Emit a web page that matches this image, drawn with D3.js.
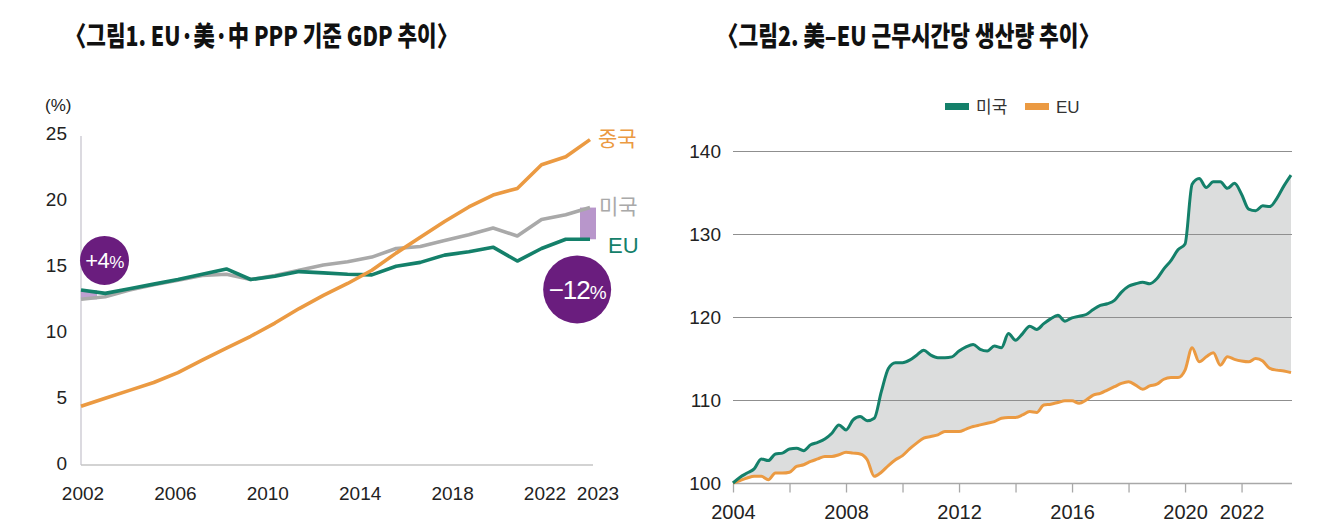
<!DOCTYPE html>
<html><head><meta charset="utf-8">
<script src="https://cdn.jsdelivr.net/npm/d3@7"></script>
<style>body{margin:0;background:#fff} svg{display:block}</style>
</head><body>
<svg id="c" width="1334" height="531"></svg>
<script>
// ---------- Figure 1 data ----------
const title1 = "〈그림1. EU·美·中 PPP 기준 GDP 추이〉";
const gdpYears = [2002,2003,2004,2005,2006,2007,2008,2009,2010,2011,2012,2013,2014,2015,2016,2017,2018,2019,2020,2021,2022,2023];
const gdpChina = [4.3,4.9,5.5,6.1,6.85,7.8,8.7,9.6,10.6,11.7,12.7,13.6,14.6,15.9,17.1,18.3,19.4,20.3,20.8,22.6,23.2,24.5];
const gdpUS    = [12.4,12.6,13.1,13.5,13.85,14.2,14.3,13.9,14.2,14.6,15.0,15.25,15.6,16.25,16.4,16.85,17.3,17.8,17.2,18.45,18.8,19.35];
const gdpEU    = [13.1,12.85,13.2,13.55,13.9,14.3,14.7,13.9,14.15,14.5,14.4,14.3,14.25,14.9,15.2,15.75,16.0,16.35,15.3,16.25,16.95,16.95];
const gdpYTicks = [0,5,10,15,20,25];
const gdpXTickLabels = [2002,2006,2010,2014,2018,2022,2023];
const gdpSeriesLabels = ["중국","미국","EU"];
const gdpGapLabels = ["+4", "−12"];
const gdpUnit = "(%)";

// ---------- Figure 2 data (quarterly, 2004Q1 - 2023Q4) ----------
const title2 = "〈그림2. 美–EU 근무시간당 생산량 추이〉";
const prodYears = [2004,2005,2006,2007,2008,2009,2010,2011,2012,2013,2014,2015,2016,2017,2018,2019,2020,2021,2022,2023];
const prodUS = [
 100.0,100.7,101.2,101.7, 102.9,102.7,103.5,103.6, 104.1,104.2,103.9,104.6, 104.9,105.3,106.0,107.0,
 106.4,107.6,108.0,107.5, 107.8,111.0,113.8,114.5, 114.5,114.8,115.4,116.0, 115.4,115.1,115.1,115.2,
 115.9,116.4,116.7,116.1, 115.9,116.5,116.3,118.0, 117.2,118.0,118.9,118.5, 119.2,119.8,120.2,119.5,
 119.9,120.1,120.3,120.9, 121.4,121.6,122.0,123.0, 123.7,124.0,124.2,124.0, 124.6,125.8,126.8,128.1,
 128.8,136.0,136.7,135.6, 136.3,136.3,135.5,136.1, 134.8,133.0,132.8,133.4, 133.3,134.3,135.8,137.1];
const prodEU = [
 100.0,100.3,100.6,100.8, 100.8,100.4,101.2,101.2, 101.3,102.0,102.2,102.6, 102.9,103.2,103.2,103.4,
 103.7,103.6,103.5,102.8, 100.8,101.3,102.1,102.8, 103.3,104.1,104.8,105.4, 105.6,105.8,106.2,106.2,
 106.2,106.5,106.8,107.0, 107.2,107.4,107.8,107.9, 107.9,108.2,108.6,108.5, 109.4,109.5,109.7,109.9,
 109.9,109.6,110.0,110.6, 110.8,111.2,111.6,112.0, 112.2,111.8,111.3,111.7, 111.9,112.5,112.7,112.7,
 113.6,116.3,114.6,115.2, 115.7,114.2,115.2,114.9, 114.7,114.6,115.0,114.7, 113.8,113.6,113.5,113.3];
const prodYTicks = [100,110,120,130,140];
const prodXTicks = [2004,2006,2008,2010,2012,2014,2016,2018,2020,2022];
const prodXLabels = [2004,2008,2012,2016,2020,2022];
const prodLegend = ["미국","EU"];

// ---------- styles ----------
const GREEN = "#14806a", ORANGE = "#eb9a42", GREY = "#a9a9a9", PURPLE = "#6a1d7e", LPURPLE = "#b896cb";
const NUM_FONT = "'Liberation Sans', Arial, sans-serif";
const KR_FONT = "'Noto Sans CJK KR', 'Noto Sans', sans-serif";

const svg = d3.select("#c");

// Titles
svg.append("text").attr("x", 65).attr("y", 46).attr("textLength", 393).attr("lengthAdjust", "spacingAndGlyphs")
  .attr("font-family", KR_FONT).attr("font-weight", 900).attr("font-size", 27).attr("fill", "#111").text(title1);
svg.append("text").attr("x", 717).attr("y", 46).attr("textLength", 383).attr("lengthAdjust", "spacingAndGlyphs")
  .attr("font-family", KR_FONT).attr("font-weight", 900).attr("font-size", 27).attr("fill", "#111").text(title2);

// ================= Figure 1 =================
{
  const g = svg.append("g");
  const x = d3.scaleLinear().domain([2002, 2023]).range([81, 590]);
  const y = d3.scaleLinear().domain([0, 25]).range([463, 133]);
  const xLab = d3.scaleLinear().domain([2002, 2022]).range([83, 545]);

  // axes lines
  g.append("line").attr("x1", x(2002)).attr("x2", x(2002)).attr("y1", y(25) + 3).attr("y2", y(0) + 2)
    .attr("stroke", "#c4c2cc").attr("stroke-width", 1.2);
  g.append("line").attr("x1", x(2002)).attr("x2", x(2023) + 3).attr("y1", y(0) + 2).attr("y2", y(0) + 2)
    .attr("stroke", "#c4c4c4").attr("stroke-width", 1.5);

  // y tick labels
  g.selectAll(".yl").data(gdpYTicks).enter().append("text")
    .attr("x", 67).attr("y", d => y(d) + 7).attr("text-anchor", "end")
    .attr("font-family", NUM_FONT).attr("font-size", 19).attr("fill", "#222").text(d => d);
  g.append("text").attr("x", 45).attr("y", 111).attr("font-family", NUM_FONT).attr("font-size", 17)
    .attr("fill", "#222").text(gdpUnit);

  // x tick labels
  g.selectAll(".xl").data(gdpXTickLabels).enter().append("text")
    .attr("x", (d, i) => i === gdpXTickLabels.length - 1 ? x(d) + 8 : xLab(d))
    .attr("y", 500).attr("text-anchor", "middle")
    .attr("font-family", NUM_FONT).attr("font-size", 19).attr("fill", "#222").text(d => d);

  // purple gap bars
  g.append("rect").attr("x", x(2002)).attr("width", 16)
    .attr("y", y(gdpEU[0])).attr("height", y(gdpUS[0]) - y(gdpEU[0]))
    .attr("fill", LPURPLE).attr("opacity", 0.9);
  const last = gdpYears.length - 1;
  g.append("rect").attr("x", x(2023) - 10).attr("width", 16)
    .attr("y", y(gdpUS[last])).attr("height", y(gdpEU[last]) - y(gdpUS[last]))
    .attr("fill", LPURPLE);

  const line = d3.line().x((d, i) => x(gdpYears[i])).y(d => y(d));
  [[gdpUS, GREY], [gdpEU, GREEN], [gdpChina, ORANGE]].forEach(([s, c]) => {
    g.append("path").datum(s).attr("d", line).attr("fill", "none").attr("stroke", c)
      .attr("stroke-width", 3.6).attr("stroke-linejoin", "round");
  });

  // series labels
  const labelColors = [ORANGE, GREY, GREEN];
  const labelPos = [[598, 146], [599, 214], [608, 253]];
  gdpSeriesLabels.forEach((t, i) => {
    g.append("text").attr("x", labelPos[i][0]).attr("y", labelPos[i][1])
      .attr("font-family", i === 2 ? NUM_FONT : KR_FONT).attr("font-size", i === 2 ? 22 : 21)
      .attr("fill", labelColors[i]).text(t);
  });

  // circles
  const circ = [{cx: x(2002.97), cy: y(15.35), r: 24.5, fs: 22, pfs: 17, ls: -0.5},
                {cx: x(2022.47), cy: y(13.15), r: 34, fs: 26, pfs: 19, ls: -1}];
  circ.forEach((c, i) => {
    g.append("circle").attr("cx", c.cx).attr("cy", c.cy).attr("r", c.r).attr("fill", PURPLE);
    const t = g.append("text").attr("x", c.cx).attr("y", c.cy + c.fs * 0.36).attr("text-anchor", "middle")
      .attr("font-family", NUM_FONT).attr("font-size", c.fs).attr("fill", "#fff").attr("letter-spacing", c.ls);
    t.append("tspan").text(gdpGapLabels[i]);
    t.append("tspan").attr("font-size", c.pfs).text("%");
  });
}

// ================= Figure 2 =================
{
  const g = svg.append("g");
  const times = prodUS.map((d, i) => prodYears[Math.floor(i / 4)] + (i % 4) / 4);
  const x = d3.scaleLinear().domain([2004, 2023.75]).range([733, 1291]);
  const y = d3.scaleLinear().domain([100, 140]).range([483, 151]);

  // area between
  const area = d3.area().x((d, i) => x(times[i])).y0((d, i) => y(prodEU[i])).y1(d => y(d));
  g.append("path").datum(prodUS).attr("d", area).attr("fill", "#dcdddd");

  // gridlines
  g.selectAll(".gl").data(prodYTicks.slice(1)).enter().append("line")
    .attr("x1", x(2004)).attr("x2", x(2023.75) + 1).attr("y1", d => Math.round(y(d)) + 0.5).attr("y2", d => Math.round(y(d)) + 0.5)
    .attr("stroke", "#8f8f8f").attr("stroke-width", 1);

  // x axis
  const xAxis = d3.axisBottom(x).tickValues(prodXTicks).tickSize(9)
    .tickFormat(d => prodXLabels.includes(d) ? d : "");
  const ax = g.append("g").attr("transform", `translate(0,${Math.round(y(100)) + 0.5})`).call(xAxis);
  ax.select(".domain").attr("d", `M${x(2004)},0H${x(2023.75) + 1}`).attr("stroke", "#a8a8a8").attr("stroke-width", 1.3);
  ax.selectAll(".tick line").attr("stroke", "#a8a8a8").attr("stroke-width", 1.3);
  ax.selectAll(".tick text").attr("font-family", NUM_FONT).attr("font-size", 20).attr("fill", "#222")
    .attr("dy", 0).attr("y", 35);

  // y labels
  g.selectAll(".yl").data(prodYTicks).enter().append("text")
    .attr("x", 721).attr("y", d => y(d) + 7).attr("text-anchor", "end")
    .attr("font-family", NUM_FONT).attr("font-size", 19).attr("fill", "#222").text(d => d);

  const line = d3.line().x((d, i) => x(times[i])).y(d => y(d)).curve(d3.curveMonotoneX);
  g.append("path").datum(prodEU).attr("d", line).attr("fill", "none").attr("stroke", ORANGE).attr("stroke-width", 3).attr("stroke-linejoin", "round");
  g.append("path").datum(prodUS).attr("d", line).attr("fill", "none").attr("stroke", GREEN).attr("stroke-width", 3).attr("stroke-linejoin", "round");

  // legend
  const legColors = [GREEN, ORANGE];
  const legX = [945, 1025];
  prodLegend.forEach((t, i) => {
    g.append("rect").attr("x", legX[i]).attr("y", 103).attr("width", 24).attr("height", 7).attr("fill", legColors[i]);
    g.append("text").attr("x", legX[i] + 31).attr("y", 113)
      .attr("font-family", i === 0 ? KR_FONT : NUM_FONT).attr("font-size", 17).attr("fill", "#333").text(t);
  });
}
</script>
</body></html>
